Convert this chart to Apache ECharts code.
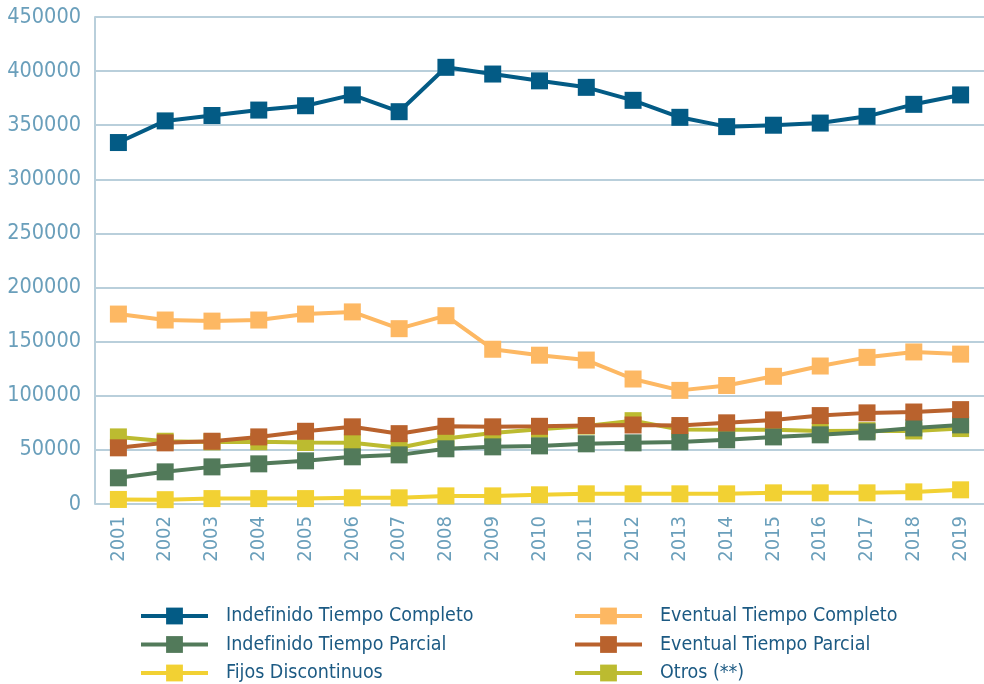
<!DOCTYPE html>
<html lang="es">
<head>
    <meta charset="UTF-8">
    <title>Contratos por tipo 2001-2019</title>
    <script src="https://cdn.jsdelivr.net/npm/echarts@6/dist/echarts.min.js"></script>
    <style>
        html, body { margin: 0; padding: 0; background: #fff; }
        #chart { width: 984px; height: 684px; }
    </style>
</head>
<body>
<div id="chart"></div>
<script type="text/javascript">
    // datos
    var years = ['2001','2002','2003','2004','2005','2006','2007','2008','2009','2010',
                 '2011','2012','2013','2014','2015','2016','2017','2018','2019'];
    var yTicks = [0, 50000, 100000, 150000, 200000, 250000, 300000, 350000, 400000, 450000];

    var indefCompleto = [334000,354000,359000,364000,368000,378000,362500,403500,397300,391000,
                         385000,373000,357300,348700,350000,352000,358200,369300,378000];
    var eventCompleto = [175500,170000,169000,170000,175500,177500,162000,174000,143000,137500,
                         133000,115500,105000,109500,118000,127500,135500,140500,138500];
    var indefParcial  = [24200,29700,34300,37100,39900,43600,45400,51000,52800,53700,
                         55600,56500,57400,59300,62000,63900,66600,70300,73100];
    var eventParcial  = [51900,56500,58000,62000,67200,71300,65000,71800,71300,71800,
                         72500,73000,72500,75000,77700,81700,84200,85000,87200];
    var fijosDisc     = [4200,4000,5000,5000,5000,5700,5700,7500,7500,8500,
                         9400,9400,9400,9400,10300,10300,10300,11200,13100];
    var otros         = [62000,58000,57400,57500,56800,56500,52000,60500,65700,69000,
                         72000,77000,68800,68500,68500,67500,67800,67500,69700];

    var names = ['Indefinido Tiempo Completo', 'Eventual Tiempo Completo',
                 'Indefinido Tiempo Parcial', 'Eventual Tiempo Parcial',
                 'Fijos Discontinuos', 'Otros (**)'];
    var colors = ['#035b85', '#fdb863', '#527a5a', '#b9622d', '#f2d133', '#bcbb30'];

    var font = "'Liberation Sans Narrow', 'DejaVu Sans Condensed', 'Roboto Condensed', 'Liberation Sans', sans-serif";

    var chart = echarts.init(document.getElementById('chart'));

    function lineSerie(name, data, color, z) {
        return {
            name: name,
            type: 'line',
            data: data,
            z: z,
            symbol: 'rect',
            symbolSize: 17,
            showSymbol: true,
            animation: false,
            itemStyle: { color: color },
            lineStyle: { color: color, width: 4 }
        };
    }

    var legendText = {
        fontFamily: font,
        fontSize: 19.5,
        color: '#1c5a83',
        padding: [0, 0, 0, 13]
    };

    function legendCol(left, items) {
        return {
            orient: 'vertical',
            left: left,
            top: 606,
            height: 90,
            padding: 0,
            itemWidth: 67,
            itemHeight: 21,
            itemGap: 8.5,
            lineStyle: { width: 4 },
            data: items,
            textStyle: legendText
        };
    }

    var option = {
        animation: false,
        grid: {
            left: 95,
            top: 17,
            width: 901,
            height: 487
        },
        legend: [
            legendCol(139, [names[0], names[2], names[4]]),
            legendCol(573, [names[1], names[3], names[5]])
        ],
        xAxis: {
            type: 'category',
            data: years,
            boundaryGap: true,
            axisTick: { show: false },
            axisLine: { show: false },
            axisLabel: {
                rotate: 90,
                margin: 12,
                fontFamily: font,
                fontSize: 20,
                color: '#6a9fbb'
            }
        },
        yAxis: {
            type: 'value',
            min: yTicks[0],
            max: yTicks[yTicks.length - 1],
            interval: 50000,
            axisLine: { show: true, lineStyle: { color: '#b9cfdb', width: 2 } },
            axisTick: { show: false },
            axisLabel: {
                margin: 14,
                fontFamily: font,
                fontSize: 21.5,
                color: '#6a9fbb',
                formatter: function (v) { return String(v); }
            },
            splitLine: { lineStyle: { color: '#b9cfdb', width: 2 } }
        },
        series: [
            lineSerie(names[5], otros, colors[5], 2),
            lineSerie(names[4], fijosDisc, colors[4], 3),
            lineSerie(names[2], indefParcial, colors[2], 4),
            lineSerie(names[3], eventParcial, colors[3], 5),
            lineSerie(names[1], eventCompleto, colors[1], 6),
            lineSerie(names[0], indefCompleto, colors[0], 7)
        ]
    };
    chart.setOption(option);
</script>
</body>
</html>
